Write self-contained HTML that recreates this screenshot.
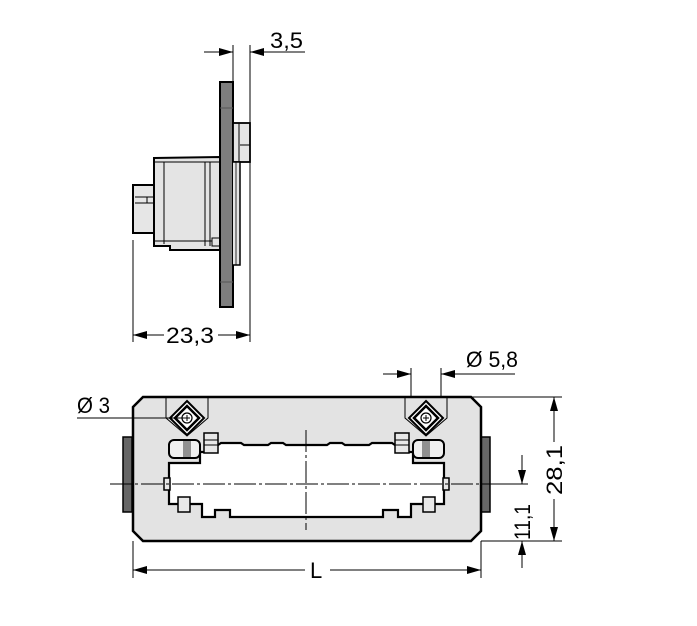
<!DOCTYPE html>
<html><head><meta charset="utf-8"><style>
html,body{margin:0;padding:0;background:#fff;}
svg{display:block;}
text{font-family:"Liberation Sans",sans-serif;font-size:22px;fill:#000;}
</style></head><body>
<svg width="697" height="626" viewBox="0 0 697 626" xmlns="http://www.w3.org/2000/svg">
<defs>
<marker id="a" markerWidth="14" markerHeight="8" refX="14" refY="4" orient="auto" markerUnits="userSpaceOnUse"><path d="M0,0 L14,4 L0,8 Z" fill="#000"/></marker>
<g id="dia">
<path d="M-21,-21 V0 L0,18 L21,0 V-21" fill="none" stroke="#000" stroke-width="1"/>
<path d="M0,-17 L17,0 L0,17 L-17,0 Z" fill="#fff" stroke="#000" stroke-width="2"/>
<path d="M0,-12 L12,0 L0,12 L-12,0 Z" fill="none" stroke="#000" stroke-width="2.5"/>
<circle r="5" fill="#fff" stroke="#000" stroke-width="1.2"/>
<path d="M-3,0H3M0,-3V3" stroke="#000" stroke-width="1"/>
</g>
<g id="half">
<rect x="169" y="440" width="31" height="18" rx="5" fill="#f0f0f0" stroke="#000" stroke-width="2"/>
<path d="M184,440v18M186,440v18M188,440v18M190,440v18" stroke="#000" stroke-width="0.8"/>
<rect x="204" y="433" width="14" height="20" fill="#e8e8e8" stroke="#000" stroke-width="1.5"/>
<path d="M204,440h14M204,445h14" stroke="#000" stroke-width="1"/>
<rect x="178" y="497" width="12" height="15" fill="#e8e8e8" stroke="#000" stroke-width="1.5"/>
<rect x="164" y="478" width="6" height="12" fill="#e8e8e8" stroke="#000" stroke-width="1.5"/>
</g>
</defs>

<!-- SIDE VIEW -->
<rect x="133" y="185" width="21" height="48" fill="#e6e6e6" stroke="#000" stroke-width="2"/>
<path d="M135,197h18M135,203h18M147,197v6" stroke="#000" stroke-width="1"/>
<path d="M154,158 L220,157 L220,250 L170,250 L170,246 L154,246 Z" fill="#e4e4e4" stroke="#000" stroke-width="2"/>
<path d="M164,162v82M205,162v84M210,162v84M154,162h66M154,241h58" stroke="#000" stroke-width="1"/>
<rect x="212" y="238" width="8" height="8" fill="none" stroke="#000" stroke-width="1"/>
<rect x="220" y="82" width="13" height="225" fill="#7e7e7e" stroke="#000" stroke-width="2"/>
<path d="M220,108h13M220,282h13" stroke="#555" stroke-width="1"/>
<rect x="233" y="123" width="17" height="39" fill="#e4e4e4" stroke="#000" stroke-width="1.8"/>
<path d="M239,123v39M240,145h10" stroke="#000" stroke-width="1"/>
<path d="M233,162 H240 V265 H233" fill="#e4e4e4" stroke="#000" stroke-width="1.5"/>
<path d="M236,162v103" stroke="#000" stroke-width="0.8"/>
<!-- side dims -->
<path d="M233,45V82M250,45V342M133,240V342" stroke="#000" stroke-width="1"/>
<line x1="204" y1="52" x2="233" y2="52" stroke="#000" stroke-width="1" marker-end="url(#a)"/>
<line x1="305" y1="52" x2="250" y2="52" stroke="#000" stroke-width="1" marker-end="url(#a)"/>
<text x="270" y="48" textLength="33" lengthAdjust="spacingAndGlyphs">3,5</text>
<line x1="164" y1="335" x2="133" y2="335" stroke="#000" stroke-width="1" marker-end="url(#a)"/>
<line x1="218" y1="335" x2="250" y2="335" stroke="#000" stroke-width="1" marker-end="url(#a)"/>
<text x="166" y="343" textLength="48" lengthAdjust="spacingAndGlyphs">23,3</text>

<!-- FRONT VIEW -->
<rect x="123" y="437" width="9" height="75" fill="#666" stroke="#000" stroke-width="1.5"/>
<rect x="481" y="437" width="9" height="75" fill="#666" stroke="#000" stroke-width="1.5"/>
<path d="M143,397 L471,397 L481,407 L481,531 L471,541 L143,541 L133,531 L133,407 Z" fill="#e3e3e3" stroke="#000" stroke-width="2.5"/>
<!-- cavity -->
<path d="M200,463 H169 V504 H202 V517 H215 V510 H230 V517 H383 V510 H398 V517 H411 V504 H444 V463 H413 V452 H408 V445 L395,445 L392,443 L372,443 L369,445 L345,445 L342,443 L330,443 L327,445 L286,445 L283,443 L271,443 L268,445 L244,445 L241,443 L221,443 L218,445 H205 V452 H200 Z" fill="#fff" stroke="#000" stroke-width="2.2"/>
<use href="#half"/>
<use href="#half" transform="translate(613,0) scale(-1,1)"/>
<use href="#dia" x="187" y="418"/>
<use href="#dia" x="426" y="418"/>
<!-- center lines -->
<path d="M110,484 H495" stroke="#000" stroke-width="1" stroke-dasharray="22,3,3,3"/>
<path d="M306,430 V530" stroke="#000" stroke-width="1" stroke-dasharray="22,3,3,3"/>
<!-- front dims -->
<path d="M77,418H185" stroke="#000" stroke-width="1"/>
<text x="77" y="413" textLength="33" lengthAdjust="spacingAndGlyphs">Ø 3</text>
<path d="M411,368V397M441,368V397" stroke="#000" stroke-width="1"/>
<line x1="383" y1="374" x2="411" y2="374" stroke="#000" stroke-width="1" marker-end="url(#a)"/>
<line x1="515" y1="374" x2="441" y2="374" stroke="#000" stroke-width="1" marker-end="url(#a)"/>
<text x="466" y="367" textLength="52" lengthAdjust="spacingAndGlyphs">Ø 5,8</text>
<path d="M471,397H562M481,541H562M133,541V578M481,541V578" stroke="#000" stroke-width="1"/>
<line x1="554" y1="442" x2="554" y2="397" stroke="#000" stroke-width="1" marker-end="url(#a)"/>
<line x1="554" y1="499" x2="554" y2="541" stroke="#000" stroke-width="1" marker-end="url(#a)"/>
<text transform="translate(562,495) rotate(-90)" textLength="50" lengthAdjust="spacingAndGlyphs">28,1</text>
<path d="M481,484H528" stroke="#000" stroke-width="1"/>
<line x1="522" y1="455" x2="522" y2="484" stroke="#000" stroke-width="1" marker-end="url(#a)"/>
<line x1="522" y1="568" x2="522" y2="541" stroke="#000" stroke-width="1" marker-end="url(#a)"/>
<text transform="translate(530,540) rotate(-90)" textLength="36" lengthAdjust="spacingAndGlyphs">11,1</text>
<line x1="305" y1="570" x2="133" y2="570" stroke="#000" stroke-width="1" marker-end="url(#a)"/>
<line x1="330" y1="570" x2="481" y2="570" stroke="#000" stroke-width="1" marker-end="url(#a)"/>
<text x="310" y="578">L</text>
</svg>
</body></html>
